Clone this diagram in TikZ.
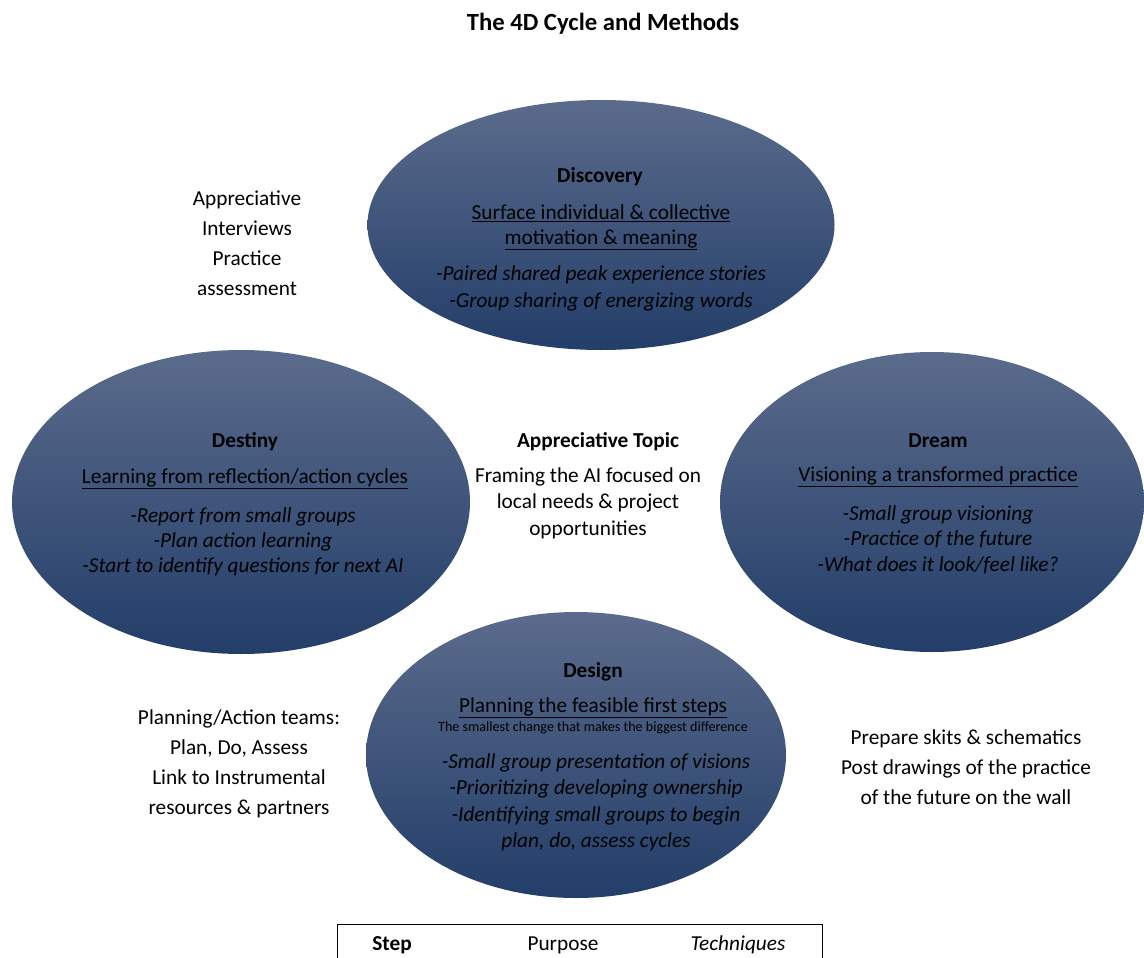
\documentclass[tikz,border=0pt]{standalone}
\usepackage{fontspec}
\setmainfont{Carlito}
\usetikzlibrary{shapes.geometric,positioning}
\definecolor{elltop}{HTML}{5B6B8C}
\definecolor{ellbot}{HTML}{233E69}
\begin{document}
\begin{tikzpicture}[x=1pt,y=-1pt,
 phase/.style={ellipse,inner sep=0pt,top color=elltop,bottom color=ellbot,draw=none},
 txt/.style={align=center,inner sep=0pt,yshift=-2pt,font=\fontsize{21.3}{27}\selectfont},
 head/.style={txt,font=\fontsize{21.3}{27}\selectfont\bfseries},
 tech/.style={txt,font=\fontsize{21.3}{26.5}\selectfont\itshape}]
\clip (0,0) rectangle (1144,958);
\node[head,font=\fontsize{24.7}{28}\selectfont\bfseries] (title) at (603,22) {The 4D Cycle and Methods};
% the four phases
\node[phase,minimum width=467pt,minimum height=250pt] (disc) at (601,225) {};
\node[phase,minimum width=458pt,minimum height=304pt] (dest) at (241,502) {};
\node[phase,minimum width=424pt,minimum height=300pt] (drm) at (932,502) {};
\node[phase,minimum width=420pt,minimum height=286pt] (des) at (576,755) {};
% discovery
\node[head] (disch) at (600,175) {Discovery};
\node[txt,font=\fontsize{21.3}{25}\selectfont] (discp) at (601,225.5) {\underline{Surface individual \& collective}\\\underline{motivation \& meaning}};
\node[tech] (disct) at (601,286.5) {-Paired shared peak experience stories\\-Group sharing of energizing words};
% destiny
\node[head] (desth) at (245,440) {Destiny};
\node[txt] (destp) at (245,477) {\underline{Learning from reflection/action cycles}};
\node[tech,font=\fontsize{21.3}{25}\selectfont\itshape] (destt) at (243,540) {-Report from small groups\\-Plan action learning\\-Start to identify questions for next AI};
% dream
\node[head] (drmh) at (938,439) {Dream};
\node[txt] (drmp) at (938,475) {\underline{Visioning a transformed practice}};
\node[tech,font=\fontsize{21.3}{25.5}\selectfont\itshape] (drmt) at (938,537.5) {-Small group visioning\\-Practice of the future\\-What does it look/feel like?};
% design
\node[head] (desh) at (593,670) {Design};
\node[txt] (desp) at (593,706) {\underline{Planning the feasible first steps}};
\node[txt,font=\fontsize{14.1}{15}\selectfont] (dess) at (593,726) {The smallest change that makes the biggest difference};
\node[tech] (dest) at (596,800.5) {-Small group presentation of visions\\-Prioritizing developing ownership\\-Identifying small groups to begin\\plan, do, assess cycles};
% centre topic
\node[head] (toph) at (598,440) {Appreciative Topic};
\node[txt,font=\fontsize{21.3}{26.5}\selectfont] (topt) at (588,501) {Framing the AI focused on\\local needs \& project\\opportunities};
% methods round the cycle
\node[txt,font=\fontsize{21.3}{30}\selectfont] (m1) at (247,241) {Appreciative\\Interviews\\Practice\\assessment};
\node[txt,font=\fontsize{21.3}{30}\selectfont] (m2) at (239,762) {Planning/Action teams:\\Plan, Do, Assess\\Link to Instrumental\\resources \& partners};
\node[txt,font=\fontsize{21.3}{30}\selectfont] (m3) at (966,765) {Prepare skits \& schematics\\Post drawings of the practice\\of the future on the wall};
% legend
\draw[thick] (337,924) rectangle (822,990);
\node[head] (k1) at (392,943) {Step};
\node[txt] (k2) at (563,943) {Purpose};
\node[tech] (k3) at (738,943) {Techniques};
\end{tikzpicture}
\end{document}
